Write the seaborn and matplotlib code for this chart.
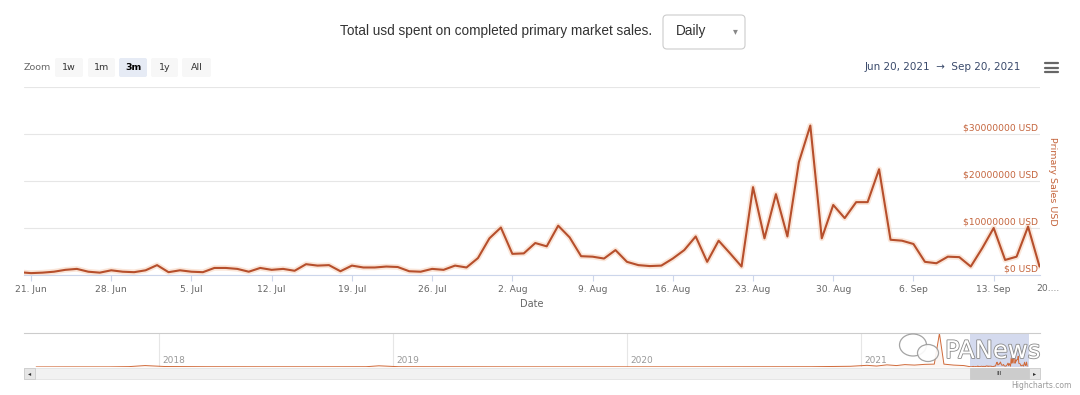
import numpy as np
import pandas as pd
import matplotlib
matplotlib.use("Agg")
import matplotlib.pyplot as plt
import matplotlib.dates as mdates
from matplotlib.patches import FancyBboxPatch, Rectangle, Ellipse
from matplotlib.lines import Line2D
from matplotlib.transforms import IdentityTransform, blended_transform_factory
import matplotlib.patheffects as pe
import seaborn as sns

# ---------------- data ----------------
title_text = "Total usd spent on completed primary market sales."
period_choice = "Daily"
zoom_buttons = ["1w", "1m", "3m", "1y", "All"]
selected_button = "3m"
range_start = "2021-06-20"
range_end = "2021-09-20"
range_text = "Jun 20, 2021  \u2192  Sep 20, 2021"

start_date = "2021-06-20"
# daily primary sales, millions of USD (Jun 20 .. Sep 17, 2021)
sales_musd = [0.6, 0.4, 0.5, 0.7, 1.1, 1.3, 0.7, 0.5, 1.0, 0.7,
              0.6, 1.0, 2.1, 0.6, 1.0, 0.7, 0.6, 1.5, 1.5, 1.3,
              0.7, 1.5, 1.1, 1.3, 0.9, 2.3, 2.0, 2.1, 0.8, 2.0,
              1.6, 1.6, 1.8, 1.7, 0.8, 0.7, 1.3, 1.1, 2.0, 1.6,
              3.6, 7.8, 10.1, 4.5, 4.6, 6.8, 6.1, 10.5, 8.0, 4.0,
              3.9, 3.5, 5.3, 2.8, 2.1, 1.9, 2.0, 3.5, 5.3, 8.2,
              2.8, 7.3, 4.6, 1.8, 18.7, 7.8, 17.2, 8.2, 24.0, 31.8,
              7.8, 14.9, 12.1, 15.5, 15.5, 22.5, 7.5, 7.3, 6.6, 2.8,
              2.5, 3.9, 3.8, 1.8, 5.7, 10.0, 3.2, 3.9, 10.3, 1.8]

ytick_values = [0, 10e6, 20e6, 30e6]
ytick_labels = ["$0 USD", "$10000000 USD", "$20000000 USD", "$30000000 USD"]
y_axis_title = "Primary Sales USD"
x_axis_title = "Date"
last_tick_label = "20...."

# navigator history (approximate, millions of USD)
nav_dates = ["2017-06-23", "2017-08-15", "2017-10-15", "2017-11-15", "2017-12-10",
             "2018-01-10", "2018-03-15", "2018-06-15", "2018-09-15", "2018-11-20",
             "2018-12-10", "2019-01-10", "2019-04-15", "2019-07-15", "2019-10-15",
             "2020-01-15", "2020-04-15", "2020-07-15", "2020-10-15", "2020-12-15",
             "2021-01-10", "2021-01-25", "2021-02-10", "2021-02-25", "2021-03-10",
             "2021-03-25", "2021-04-10", "2021-04-25", "2021-05-03", "2021-05-10",
             "2021-05-25", "2021-06-10"]
nav_musd = [0.2, 0.3, 0.3, 0.8, 3.0,
            1.0, 0.6, 0.5, 0.5, 0.6,
            2.5, 0.6, 0.5, 0.4, 0.4,
            0.4, 0.4, 0.5, 0.6, 1.5,
            3.5, 2.0, 4.5, 3.0, 5.0,
            4.0, 5.5, 6.0, 70.0, 6.0,
            4.0, 3.0]
nav_years = [2018, 2019, 2020, 2021]

# ---------------- style ----------------
LINE = "#b64f2c"
HALO = "#f8d5bf"
AXIS_ORANGE = "#c4643c"
GRID = "#e6e6e6"
GRAY_TXT = "#666666"

sns.set_theme(style="white")
plt.rcParams["font.family"] = ["DejaVu Sans"]

W, H = 1080, 395
fig = plt.figure(figsize=(W / 100, H / 100), dpi=100)
fig.patch.set_facecolor("white")


def fx(x):
    return x / W


def fy(y):
    return 1 - y / H


PX = IdentityTransform()

# ---------------- main chart ----------------
ax = fig.add_axes([fx(24), fy(275), fx(1040) - fx(24), fy(87) - fy(275)])
df = pd.DataFrame({
    "Date": pd.date_range(start_date, periods=len(sales_musd), freq="D"),
    "Sales": np.array(sales_musd) * 1e6,
})
sns.lineplot(data=df, x="Date", y="Sales", ax=ax, color=HALO, linewidth=4.0, alpha=0.6)
sns.lineplot(data=df, x="Date", y="Sales", ax=ax, color=LINE, linewidth=1.5)
for ln in ax.lines:
    ln.set_solid_joinstyle("round")
    ln.set_solid_capstyle("round")

ax.set_xlim(pd.Timestamp("2021-06-20 09:20"), pd.Timestamp("2021-09-17 01:00"))
ax.set_ylim(0, 40e6)
ax.set_yticks(ytick_values + [40e6])
ax.grid(axis="y", color=GRID, linewidth=0.8)
ax.grid(axis="x", visible=False)
ax.tick_params(axis="y", length=0, labelleft=False, labelright=False)
for s in ["left", "right", "top"]:
    ax.spines[s].set_visible(False)
ax.spines["bottom"].set_color("#ccd6eb")
ax.spines["bottom"].set_linewidth(0.8)
ax.set_xlabel("")
ax.set_ylabel("")
ax.xaxis.set_major_locator(mdates.WeekdayLocator(byweekday=mdates.MO))
ax.xaxis.set_major_formatter(mdates.DateFormatter("%-d. %b"))
ax.tick_params(axis="x", bottom=True, length=4, width=0.8, color="#ccd6eb",
               labelsize=6.6, labelcolor=GRAY_TXT, pad=3.5)

trans = blended_transform_factory(ax.transAxes, ax.transData)
for v, s in zip(ytick_values, ytick_labels):
    ax.text(0.9985, v + 0.35e6, s, transform=trans, ha="right", va="bottom",
            fontsize=6.6, color=AXIS_ORANGE)
ax.text((1052 - 24) / 1016, 0.5, y_axis_title, transform=ax.transAxes,
        rotation=270, ha="center", va="center", fontsize=6.8, color=AXIS_ORANGE)
ax.text(0.5, -0.155, x_axis_title, transform=ax.transAxes, ha="center",
        va="center", fontsize=7, color=GRAY_TXT)
ax.text((1036 - 24) / 1016, -0.046, last_tick_label, transform=ax.transAxes,
        ha="left", va="top", fontsize=6.6, color=GRAY_TXT)

# ---------------- header ----------------
fig.text(fx(340), fy(31), title_text, ha="left", va="center", fontsize=9.8,
         family=["Liberation Sans", "DejaVu Sans"], color="#333333")
fig.add_artist(FancyBboxPatch((663, H - 49), 82, 34,
                              boxstyle="round,pad=0,rounding_size=4",
                              transform=PX, fc="white", ec="#cccccc", lw=0.8))
fig.text(fx(676), fy(31), period_choice, ha="left", va="center", fontsize=9.8,
         family=["Liberation Sans", "DejaVu Sans"], color="#333333")
fig.text(fx(735), fy(31), "\u25BE", ha="center", va="center", fontsize=7,
         color="#888888")

fig.text(fx(24), fy(67.5), "Zoom", ha="left", va="center", fontsize=6.8,
         color=GRAY_TXT)
btn_spans = [(55, 83), (88, 115), (119, 147), (151, 178), (182, 211)]
for lab, (x0, x1) in zip(zoom_buttons, btn_spans):
    sel = lab == selected_button
    fig.add_artist(FancyBboxPatch((x0, H - 77), x1 - x0, 19,
                                  boxstyle="round,pad=0,rounding_size=2",
                                  transform=PX, fc="#e6ebf5" if sel else "#f7f7f7",
                                  ec="none"))
    fig.text(fx((x0 + x1) / 2), fy(67.5), lab, ha="center", va="center",
             fontsize=6.8, color="#000000" if sel else "#333333",
             fontweight="bold" if sel else "normal")

fig.text(fx(865), fy(67.5), range_text, ha="left", va="center", fontsize=7.5,
         color="#3a4a6b")
for yy in (63, 67.5, 72):
    fig.add_artist(Line2D([1045, 1058], [H - yy, H - yy], transform=PX,
                          color="#666666", lw=1.6))

# ---------------- navigator ----------------
nav = fig.add_axes([fx(24), fy(367), fx(1040) - fx(24), fy(333) - fy(367)])
nav_df = pd.concat([
    pd.DataFrame({"Date": pd.to_datetime(nav_dates), "Sales": np.array(nav_musd) * 1e6}),
    df,
], ignore_index=True)
sns.lineplot(data=nav_df, x="Date", y="Sales", ax=nav, color="#d06a3a", linewidth=0.7)
nav.fill_between(nav_df["Date"], nav_df["Sales"], color="#d06a3a", alpha=0.06, lw=0)
nav.set_xlim(pd.Timestamp("2017-06-04"), pd.Timestamp("2021-10-07"))
nav.set_ylim(0, 71e6)
nav.set_xlabel("")
nav.set_ylabel("")
nav.xaxis.set_major_locator(mdates.YearLocator())
nav.grid(axis="x", color=GRID, linewidth=0.8)
nav.grid(axis="y", visible=False)
nav.tick_params(axis="both", length=0, labelbottom=False, labelleft=False)
for s in ["left", "right", "bottom"]:
    nav.spines[s].set_visible(False)
nav.spines["top"].set_color("#cccccc")
nav.spines["top"].set_linewidth(0.8)
for yr in nav_years:
    nav.text(pd.Timestamp(f"{yr}-01-06"), 0.2, str(yr),
             transform=blended_transform_factory(nav.transData, nav.transAxes),
             ha="left", va="center", fontsize=6.5, color="#999999")
nav.axvspan(pd.Timestamp(range_start), pd.Timestamp(range_end),
            color="#c2cbe8", alpha=0.7, lw=0)

# scrollbar
xs0 = nav.transData.transform((mdates.date2num(pd.Timestamp(range_start)), 0))[0]
xs1 = nav.transData.transform((mdates.date2num(pd.Timestamp(range_end)), 0))[0]
fig.add_artist(Rectangle((24, H - 379), 1016, 11, transform=PX,
                         fc="#f2f2f2", ec="#e3e3e3", lw=0.6))
fig.add_artist(Rectangle((xs0, H - 379), xs1 - xs0, 11, transform=PX,
                         fc="#cccccc", ec="#cccccc", lw=0.6))
fig.add_artist(Rectangle((24, H - 379), 11, 11, transform=PX,
                         fc="#e6e6e6", ec="#cccccc", lw=0.6))
fig.add_artist(Rectangle((1029, H - 379), 11, 11, transform=PX,
                         fc="#e6e6e6", ec="#cccccc", lw=0.6))
fig.text(fx(29.5), fy(373.5), "\u25C2", ha="center", va="center", fontsize=4.5,
         color="#333333")
fig.text(fx(1034.5), fy(373.5), "\u25B8", ha="center", va="center", fontsize=4.5,
         color="#333333")
fig.text(fx((xs0 + xs1) / 2), fy(373.5), "III", ha="center", va="center",
         fontsize=4.5, color="#333333")

# watermark
fig.add_artist(Ellipse((913, H - 345), 27, 22, transform=PX, fc="white",
                       ec="#9a9a9a", lw=0.9, alpha=0.9))
fig.add_artist(Ellipse((928, H - 353), 21, 17, transform=PX, fc="white",
                       ec="#9a9a9a", lw=0.9, alpha=0.9))
wm = fig.text(fx(945), fy(351), "PANews", ha="left", va="center", fontsize=17.5,
              color="white")
wm.set_path_effects([pe.Stroke(linewidth=1.2, foreground="#8a8a8a"), pe.Normal()])

fig.text(fx(1072), fy(386), "Highcharts.com", ha="right", va="center",
         fontsize=5.5, color="#999999")

fig.savefig("out.png", dpi=100, facecolor="white")
